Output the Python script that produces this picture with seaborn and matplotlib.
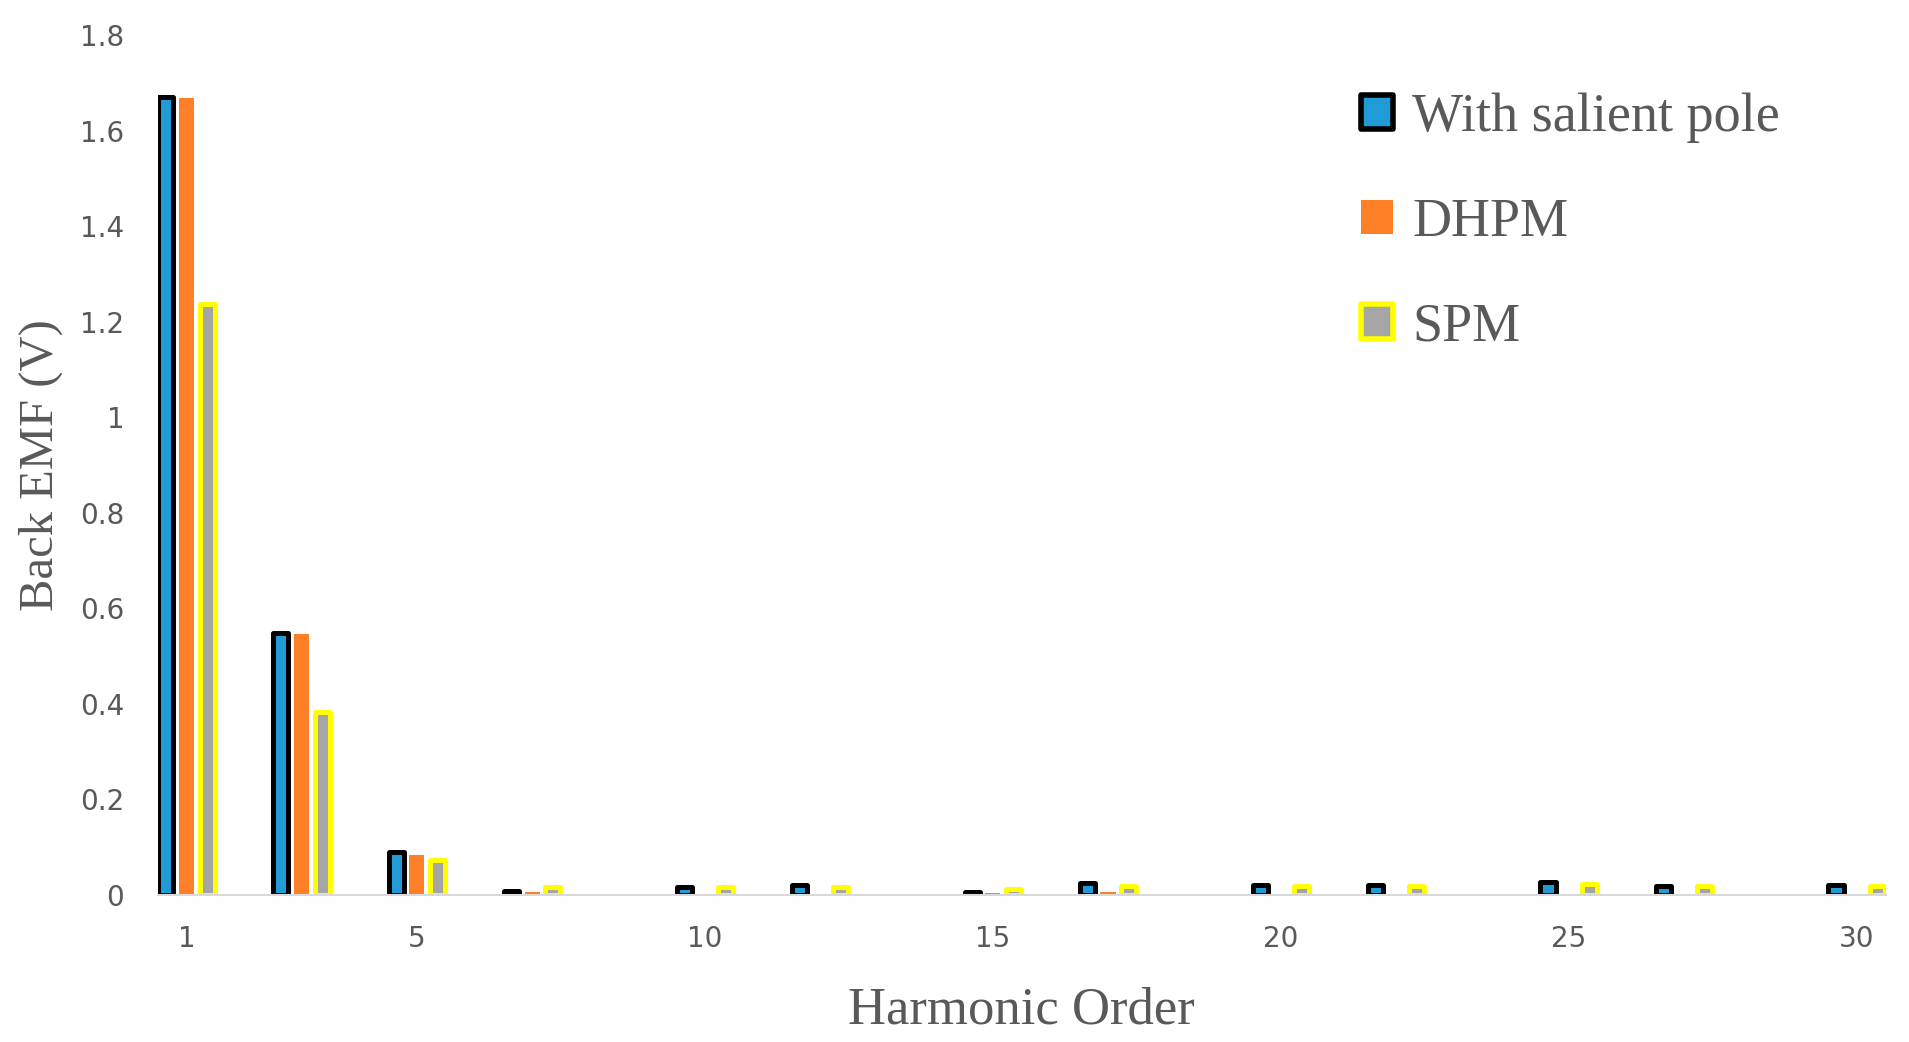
import matplotlib
matplotlib.use("Agg")
import matplotlib.pyplot as plt
from matplotlib.patches import Patch
import seaborn as sns
import pandas as pd

# harmonic orders that have bars (x axis runs 1..30 as categories)
orders = [1, 3, 5, 7, 10, 12, 15, 17, 20, 22, 25, 27, 30]
salient = [1.671, 0.548, 0.090, 0.008, 0.017, 0.021, 0.006, 0.025, 0.021, 0.021, 0.026, 0.018, 0.021]
dhpm = [1.669, 0.546, 0.084, 0.007, 0.0, 0.0, 0.004, 0.005, 0.0, 0.0, 0.0, 0.0, 0.0]
spm = [1.237, 0.382, 0.074, 0.017, 0.017, 0.017, 0.013, 0.018, 0.018, 0.018, 0.022, 0.018, 0.018]
series = ["With salient pole", "DHPM", "SPM"]
xtick_labels = [1, 5, 10, 15, 20, 25, 30]

face = ["#1F9BD7", "#FF7F27", "#A5A5A5"]
edge = ["black", "none", "#FFFF00"]

rows = []
for name, vals in zip(series, [salient, dhpm, spm]):
    for o, v in zip(orders, vals):
        rows.append({"order": o, "emf": v, "series": name})
df = pd.DataFrame(rows)

sns.set_style("white")
fig = plt.figure(figsize=(19.09, 10.42), dpi=100)
ax = fig.add_axes([0.0826, 0.1412, 0.9051, 0.8249])

sns.barplot(data=df, x="order", y="emf", hue="series", order=list(range(1, 31)),
            hue_order=series, palette=face, width=1.08, gap=0.275, errorbar=None,
            legend=False, ax=ax, saturation=1)

for cont, ec in zip(ax.containers, edge):
    for bar in cont:
        if ec == "none":
            bar.set_edgecolor("none")
            bar.set_linewidth(0)
        else:
            bar.set_edgecolor(ec)
            bar.set_linewidth(3.6)
            bar.set_joinstyle("round")

ax.set_xlim(-0.5, 29.5)
ax.set_ylim(0, 1.8)
yt = [0, 0.2, 0.4, 0.6, 0.8, 1.0, 1.2, 1.4, 1.6, 1.8]
ax.set_yticks(yt)
ax.set_yticklabels(["0", "0.2", "0.4", "0.6", "0.8", "1", "1.2", "1.4", "1.6", "1.8"])
ax.set_xticks([x - 1 for x in xtick_labels])
ax.set_xticklabels([str(x) for x in xtick_labels])
ax.tick_params(axis="both", length=0, labelsize=20, labelcolor="#595959")
ax.tick_params(axis="x", pad=22)
ax.tick_params(axis="y", pad=24)

for s in ["top", "right", "left"]:
    ax.spines[s].set_visible(False)
ax.spines["bottom"].set_color("#D9D9D9")
ax.spines["bottom"].set_linewidth(1.5)
ax.spines["bottom"].set_zorder(5)

ax.set_xlabel("Harmonic Order", family="Liberation Serif", fontsize=38, color="#595959", labelpad=24)
ax.set_ylabel("Back EMF (V)", family="Liberation Serif", fontsize=35, color="#595959", labelpad=12)

handles = [Patch(facecolor=f, edgecolor=("none" if e == "none" else e), linewidth=(0 if e == "none" else 4.0))
           for f, e in zip(face, edge)]
leg = ax.legend(handles, series, loc="upper left", bbox_to_anchor=(0.668, 0.99), frameon=False,
                prop={"family": "Liberation Serif", "size": 39}, labelcolor="#595959",
                handlelength=0.6, handleheight=0.6, handletextpad=0.35, labelspacing=1.0)
for h in leg.legend_handles:
    h.set_joinstyle("round")

fig.savefig("out.png", dpi=100)
